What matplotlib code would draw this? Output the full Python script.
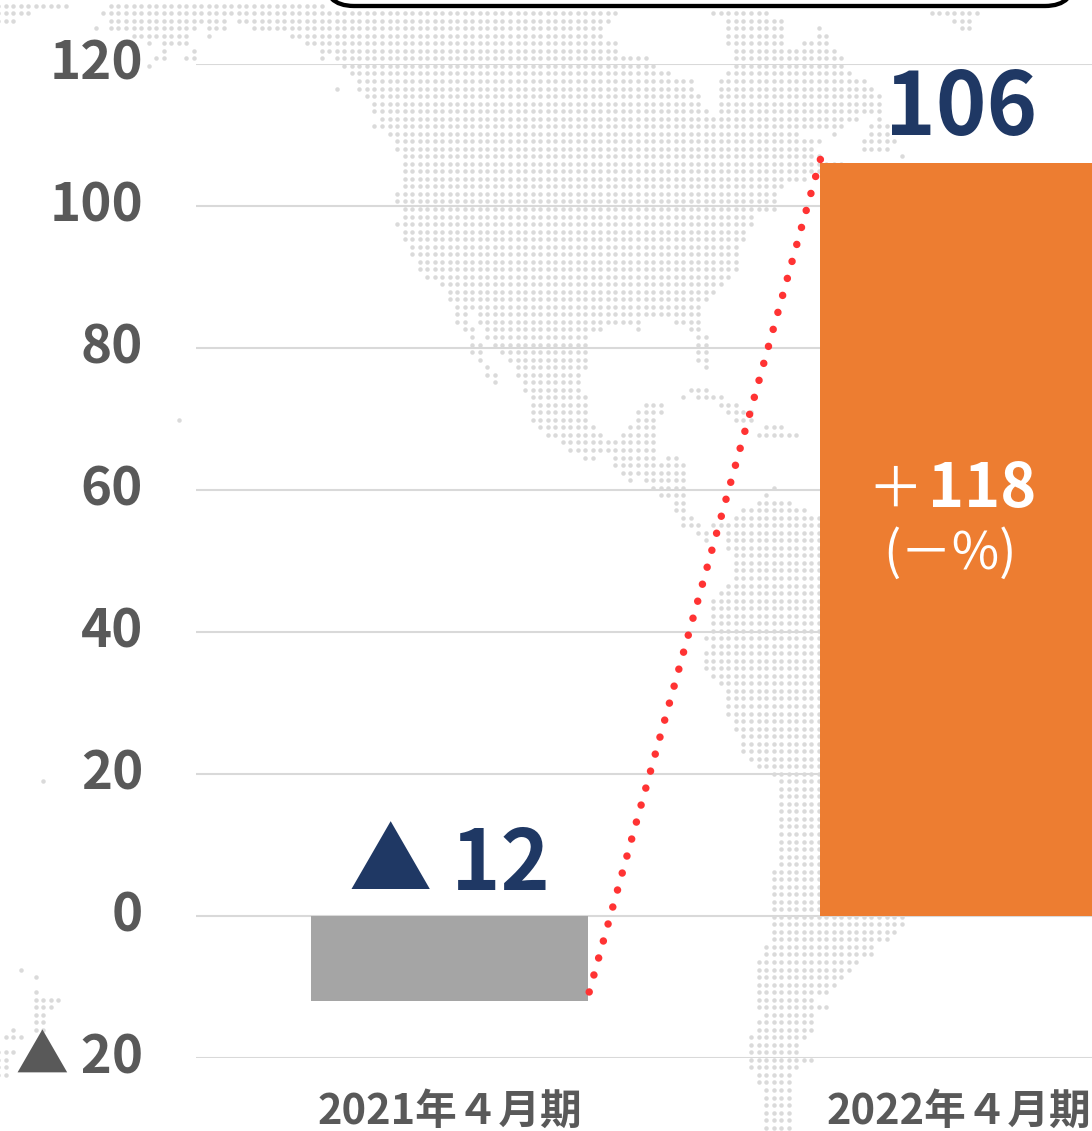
import matplotlib
matplotlib.use("Agg")
import matplotlib.pyplot as plt
import numpy as np
from matplotlib.patches import FancyBboxPatch
from matplotlib.transforms import ScaledTranslation

plt.rcParams['font.family'] = ['Noto Sans CJK JP', 'DejaVu Sans']

W, H = 1092, 1131

categories = ['2021年４月期', '2022年４月期']
profit = [-12, 106]
connector_x = [0.2745, 0.7296]
connector_y = [-10.7, 106.8]
yticks = [-20, 0, 20, 40, 60, 80, 100, 120]
ytick_labels = ['▲ 20', '0', '20', '40', '60', '80', '100', '120']
bar_colors = ['#A5A5A5', '#ED7D31']

# background dot map, traced in picture pixels: y0, y1, x0, x1
map_blocks = [
    (5, 6, 0, 40), (5, 6, 52, 62), (5, 6, 108, 325),
    (13, 13, 0, 25), (13, 13, 103, 617), (13, 13, 714, 768), (13, 13, 930, 980),
    (21, 21, 0, 10), (21, 21, 108, 227), (21, 21, 237, 610), (21, 21, 727, 783), (21, 21, 955, 970),
    (28, 28, 96, 96), (28, 28, 108, 197), (28, 28, 207, 227), (28, 28, 253, 603), (28, 28, 727, 783),
    (28, 28, 819, 819), (28, 28, 962, 970),
    (36, 36, 130, 187), (36, 36, 208, 208), (36, 36, 290, 603), (36, 36, 727, 783), (36, 36, 819, 828),
    (43, 43, 148, 148), (43, 43, 165, 187), (43, 43, 305, 617), (43, 43, 727, 783), (43, 43, 803, 828),
    (51, 51, 163, 163), (51, 51, 193, 193), (51, 51, 320, 617), (51, 51, 735, 835),
    (58, 58, 155, 163), (58, 58, 187, 193), (58, 58, 320, 320), (58, 58, 337, 645), (58, 58, 735, 845),
    (66, 66, 148, 148), (66, 66, 343, 655), (66, 66, 735, 845),
    (73, 73, 352, 667), (73, 73, 727, 850),
    (81, 81, 358, 690), (81, 81, 720, 865),
    (88, 88, 337, 337), (88, 88, 358, 693), (88, 88, 720, 872),
    (96, 96, 367, 700), (96, 96, 720, 880),
    (103, 103, 373, 700), (103, 103, 720, 880),
    (111, 111, 373, 707), (111, 111, 720, 880),
    (118, 118, 381, 857), (118, 118, 880, 880),
    (126, 126, 373, 843), (126, 126, 872, 890),
    (133, 133, 390, 795), (133, 133, 835, 835), (133, 133, 872, 890),
    (141, 141, 396, 820), (141, 141, 865, 897),
    (149, 149, 396, 813), (149, 149, 865, 890),
    (156, 156, 403, 820), (156, 156, 902, 902),
    (164, 164, 403, 840), (171, 171, 403, 830), (179, 179, 403, 805),
    (186, 186, 403, 783), (194, 201, 395, 777), (209, 209, 403, 777),
    (217, 217, 403, 753), (224, 224, 395, 753), (232, 232, 403, 747), (239, 239, 403, 747),
    (247, 254, 411, 738), (262, 269, 418, 738), (277, 277, 426, 730), (284, 284, 441, 723),
    (292, 292, 449, 715), (299, 299, 449, 708), (307, 307, 456, 700),
    (314, 314, 456, 465), (314, 314, 480, 700),
    (322, 322, 456, 465), (322, 322, 480, 640), (322, 322, 676, 700),
    (330, 330, 465, 473), (330, 330, 488, 601), (330, 330, 638, 638), (330, 330, 692, 700),
    (337, 337, 473, 473), (337, 337, 488, 587), (337, 337, 698, 707),
    (345, 345, 473, 480), (345, 345, 495, 587), (345, 345, 698, 707),
    (352, 352, 473, 480), (352, 352, 503, 587), (352, 352, 698, 707),
    (360, 360, 480, 480), (360, 360, 510, 587), (360, 360, 698, 707),
    (367, 367, 488, 488), (367, 367, 517, 587), (367, 367, 707, 707),
    (375, 375, 488, 495), (375, 375, 517, 580),
    (382, 382, 495, 495), (382, 382, 525, 580),
    (390, 390, 525, 580), (390, 390, 691, 707),
    (398, 398, 532, 587), (398, 398, 684, 684), (398, 398, 698, 722),
    (405, 405, 532, 587), (405, 405, 646, 660), (405, 405, 722, 737),
    (413, 413, 532, 587), (413, 413, 638, 660), (413, 413, 728, 750),
    (420, 420, 180, 180), (420, 420, 532, 587), (420, 420, 638, 652), (420, 420, 736, 750),
    (428, 428, 540, 593), (428, 428, 630, 655), (428, 428, 766, 782),
    (435, 435, 547, 600), (435, 435, 622, 655), (435, 435, 758, 797),
    (443, 443, 563, 650), (450, 450, 570, 650),
    (458, 458, 585, 593), (458, 458, 615, 650), (458, 458, 668, 676),
    (465, 465, 615, 685), (473, 473, 622, 685),
    (480, 480, 630, 630), (480, 480, 645, 685),
    (488, 488, 652, 685), (488, 488, 775, 775),
    (495, 495, 660, 685), (495, 495, 767, 767),
    (503, 503, 676, 685), (503, 503, 760, 790),
    (510, 510, 676, 685), (510, 510, 745, 805),
    (518, 518, 683, 692), (518, 518, 735, 830),
    (525, 525, 683, 700), (525, 525, 715, 740), (525, 525, 745, 830),
    (533, 533, 697, 705), (533, 533, 730, 830),
    (540, 540, 705, 705), (540, 548, 728, 830),
    (556, 578, 735, 830), (586, 586, 728, 830), (593, 593, 720, 830), (600, 628, 712, 830),
    (635, 635, 705, 830), (643, 643, 712, 830), (650, 671, 705, 830), (678, 678, 712, 830),
    (686, 686, 720, 830), (693, 714, 728, 830), (721, 729, 735, 830), (736, 750, 742, 830),
    (757, 757, 750, 830), (764, 764, 758, 830), (772, 772, 772, 830), (779, 864, 780, 830),
    (872, 893, 772, 830), (900, 900, 772, 912), (907, 922, 772, 905), (929, 929, 772, 897),
    (936, 936, 772, 890), (943, 943, 772, 875), (950, 957, 765, 875), (964, 964, 757, 858),
    (972, 972, 757, 850), (972, 972, 24, 24), (979, 979, 757, 843), (980, 980, 32, 32),
    (986, 986, 757, 835), (989, 989, 32, 32), (993, 993, 757, 828), (998, 998, 32, 55),
    (1000, 1000, 757, 812), (1006, 1006, 32, 47), (1007, 1007, 757, 827), (1014, 1024, 32, 40),
    (1014, 1014, 765, 812), (1021, 1029, 757, 812), (1032, 1032, 16, 16), (1032, 1032, 32, 40),
    (1036, 1036, 750, 805), (1041, 1041, 9, 24), (1043, 1050, 750, 798), (1049, 1049, 0, 16),
    (1057, 1057, 750, 812), (1058, 1058, 0, 9), (1064, 1064, 750, 798), (1067, 1075, 0, 2),
    (1071, 1079, 757, 790), (1086, 1086, 757, 770), (1093, 1131, 765, 790),
    (782, 782, 46, 46),
]

rows = 5.7 + 7.53 * np.arange(150)
cols = 306.7 + 7.53 * np.arange(-41, 105)
map_x, map_y = [], []
for y in rows:
    for x in cols:
        for y0, y1, x0, x1 in map_blocks:
            if y0 - 3.8 <= y <= y1 + 3.8 and x0 - 3.8 <= x <= x1 + 3.8:
                map_x.append(x)
                map_y.append(y)
                break

fig = plt.figure(figsize=(W / 100, H / 100), dpi=100)

bg = fig.add_axes([0, 0, 1, 1], zorder=0)
bg.set_xlim(0, W)
bg.set_ylim(H, 0)
bg.axis('off')
bg.scatter(map_x, map_y, s=10.5, color='#DADADA', linewidths=0)
bg.add_patch(FancyBboxPatch((354, -60), 691, 36, boxstyle='round,pad=30', fc='white', ec='black', lw=3.1))

ax = fig.add_axes([196 / W, (H - 1058) / H, (W - 196) / W, (1058 - 64) / H], zorder=1)
ax.patch.set_visible(False)
ax.bar([0, 1], profit, width=0.544, color=bar_colors, zorder=2)
ax.plot(connector_x, connector_y, color='#FF3333', lw=5.4, dash_capstyle='round',
        linestyle=(0, (0.001, 2.35)), zorder=3, clip_on=False)

ax.set_xlim(-0.498, 1.2623)
ax.set_ylim(-20, 120)
ax.set_yticks(yticks, ytick_labels, fontsize=38, color='#595959', fontweight='bold')
ax.set_xticks([0, 1], categories, fontsize=30, color='#595959', fontweight='bold')
ax.tick_params(axis='y', length=0, pad=38)
ax.tick_params(axis='x', length=0, pad=24)
ax.grid(axis='y', color='#D9D9D9', lw=1.5, zorder=1)
ax.set_axisbelow(True)
for s in ax.spines.values():
    s.set_visible(False)
up = ScaledTranslation(0, 6 / 100, fig.dpi_scale_trans)
for lab in ax.get_yticklabels():
    lab.set_transform(lab.get_transform() + up)

ax.text(1.005, 110, '106', ha='center', va='baseline', fontsize=62, color='#1F3864', fontweight='bold')
ax.text(0.0, 3.66, '▲ 12', ha='center', va='baseline', fontsize=60, color='#1F3864', fontweight='bold')
ax.text(0.875, 57.6, '＋', ha='center', va='baseline', fontsize=40, color='white')
ax.text(1.046, 57.6, '118', ha='center', va='baseline', fontsize=44, color='white', fontweight='bold')
ax.text(0.983, 48.9, '(－%)', ha='center', va='baseline', fontsize=37, color='white')

fig.savefig('out.png', dpi=100)
